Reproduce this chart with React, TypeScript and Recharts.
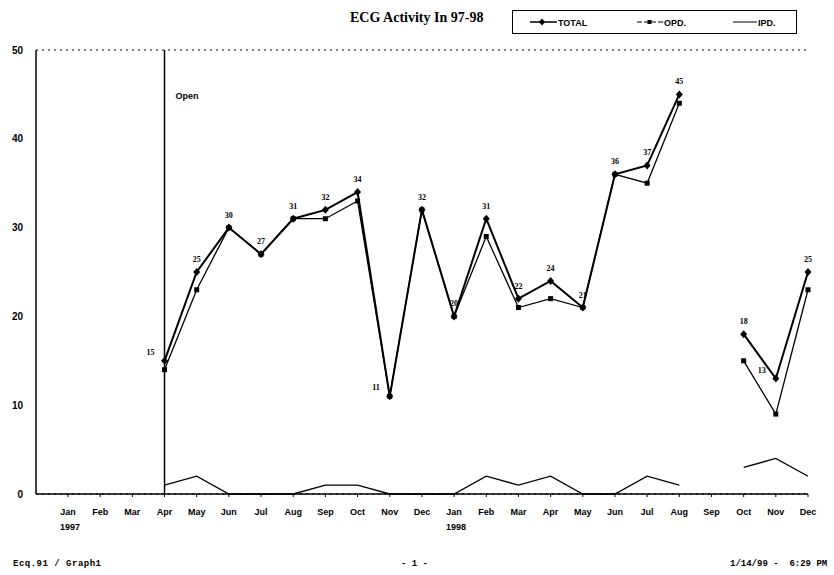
import React from 'react';
import { LineChart, Line, XAxis, YAxis, CartesianGrid, ReferenceLine, LabelList, Legend } from 'recharts';

// Jan 1997 .. Dec 1998
const periods = [
  'Jan-97', 'Feb-97', 'Mar-97', 'Apr-97', 'May-97', 'Jun-97', 'Jul-97', 'Aug-97', 'Sep-97', 'Oct-97', 'Nov-97', 'Dec-97',
  'Jan-98', 'Feb-98', 'Mar-98', 'Apr-98', 'May-98', 'Jun-98', 'Jul-98', 'Aug-98', 'Sep-98', 'Oct-98', 'Nov-98', 'Dec-98',
];
const total = [null, null, null, 15, 25, 30, 27, 31, 32, 34, 11, 32, 20, 31, 22, 24, 21, 36, 37, 45, null, 18, 13, 25];
const opd = [null, null, null, 14, 23, 30, 27, 31, 31, 33, 11, 32, 20, 29, 21, 22, 21, 36, 35, 44, null, 15, 9, 23];
const ipd = [null, null, null, 1, 2, 0, 0, 0, 1, 1, 0, 0, 0, 2, 1, 2, 0, 0, 2, 1, null, 3, 4, 2];
const yTicks = [0, 10, 20, 30, 40, 50];

const data = periods.map((p, i) => ({ period: p, total: total[i], opd: opd[i], ipd: ipd[i] }));

const AXIS_FONT = '"Liberation Sans", Arial, sans-serif';
const FOOT_FONT = '"Liberation Mono", monospace';

const MonthTick = (props: any) => {
  const { x, y, payload } = props;
  const [mon, yy] = String(payload.value).split('-');
  return (
    <g>
      <text x={x} y={y} dy={16} textAnchor="middle" fontSize={9} fontWeight="bold" fontFamily={AXIS_FONT} fill="#000">
        {mon}
      </text>
      {mon === 'Jan' && (
        <text x={x + 2} y={y} dy={31} textAnchor="middle" fontSize={9} fontWeight="bold" fontFamily={AXIS_FONT} fill="#000">
          {'19' + yy}
        </text>
      )}
    </g>
  );
};

const Diamond = (props: any) => {
  const { cx, cy, value } = props;
  if (value == null || cx == null || cy == null) return null;
  return <path d={`M${cx},${cy - 4}L${cx + 3.5},${cy}L${cx},${cy + 4}L${cx - 3.5},${cy}Z`} fill="#000" />;
};

const Square = (props: any) => {
  const { cx, cy, value } = props;
  if (value == null || cx == null || cy == null) return null;
  return <rect x={cx - 2.5} y={cy - 2.5} width={5} height={5} fill="#000" />;
};

const TotalLabel = (props: any) => {
  const { x, y, value } = props;
  if (value == null) return null;
  const low = value < 16;
  return (
    <text
      x={low ? x - 10 : x}
      y={low ? y - 6 : y - 10}
      textAnchor={low ? 'end' : 'middle'}
      fontSize={8}
      fontWeight="bold"
      fontFamily='"Liberation Serif", serif'
      fill="#000"
    >
      {value}
    </text>
  );
};

const renderLegend = () => (
  <svg width={285} height={24} style={{ display: 'block' }}>
    <rect x={0.5} y={0.5} width={284} height={23} fill="#fff" stroke="#000" strokeWidth={1} />
    <g fontSize={9} fontWeight="bold" fontFamily={AXIS_FONT} fill="#000">
      <line x1={18} y1={12} x2={45} y2={12} stroke="#000" strokeWidth={1.5} />
      <path d="M30,8.5L33,12L30,15.5L27,12Z" fill="#000" />
      <text x={46} y={15.5}>TOTAL</text>
      <line x1={125} y1={12} x2={151} y2={12} stroke="#000" strokeWidth={1} strokeDasharray="5 2" />
      <rect x={135.5} y={10} width={4} height={4} fill="#000" />
      <text x={152} y={15.5}>OPD.</text>
      <line x1={221} y1={12} x2={245} y2={12} stroke="#000" strokeWidth={1} />
      <text x={246} y={15.5}>IPD.</text>
    </g>
  </svg>
);

const footStyle: React.CSSProperties = {
  position: 'absolute',
  top: 559,
  fontFamily: FOOT_FONT,
  fontWeight: 'bold',
  fontSize: 9,
  whiteSpace: 'pre',
  color: '#000',
};

export default function App() {
  return (
    <div style={{ position: 'absolute', left: 0, top: 0, width: 834, height: 575, background: '#fff' }}>
      <div
        style={{
          position: 'absolute',
          left: 350,
          top: 10,
          fontFamily: '"Liberation Serif", "Times New Roman", serif',
          fontWeight: 'bold',
          fontSize: 14,
          color: '#000',
          whiteSpace: 'nowrap',
        }}
      >
        ECG Activity In 97-98
      </div>
      <LineChart width={834} height={575} data={data} margin={{ top: 50, right: 26, bottom: 0, left: 0 }}>
        <CartesianGrid horizontal vertical={false} stroke="#000" strokeDasharray="2 4" />
        <XAxis
          dataKey="period"
          height={81}
          padding={{ left: 32, right: 0 }}
          interval={0}
          tick={<MonthTick />}
          tickSize={3}
          axisLine={{ stroke: '#000', strokeWidth: 1.5 }}
          tickLine={{ stroke: '#000' }}
        />
        <YAxis
          yAxisId="left"
          width={36}
          domain={[0, 50]}
          ticks={yTicks}
          interval={0}
          tickLine={false}
          tickMargin={7}
          axisLine={{ stroke: '#000', strokeWidth: 1.5 }}
          tick={{ fontSize: 10, fontWeight: 'bold', fontFamily: AXIS_FONT, fill: '#000' }}
        />
        <YAxis
          yAxisId="right"
          orientation="right"
          width={0}
          domain={[0, 50]}
          tick={false}
          tickLine={false}
          axisLine={{ stroke: '#000', strokeWidth: 1.5 }}
        />
        <ReferenceLine
          yAxisId="left"
          x="Apr-97"
          stroke="#000"
          strokeWidth={1.5}
          label={(p: any) => (
            <text
              x={p.viewBox.x + 11}
              y={p.viewBox.y + 49}
              fontSize={9}
              fontWeight="bold"
              fontFamily={AXIS_FONT}
              fill="#000"
            >
              Open
            </text>
          )}
        />
        <Legend
          layout="horizontal"
          verticalAlign="middle"
          align="center"
          content={renderLegend}
          wrapperStyle={{ position: 'absolute', left: 512, top: 10, width: 285, height: 24 }}
        />
        <Line
          yAxisId="left"
          type="linear"
          dataKey="ipd"
          name="IPD."
          stroke="#000"
          strokeWidth={1.3}
          dot={false}
          isAnimationActive={false}
        />
        <Line
          yAxisId="left"
          type="linear"
          dataKey="opd"
          name="OPD."
          stroke="#000"
          strokeWidth={1.3}
          dot={<Square />}
          activeDot={false}
          isAnimationActive={false}
        />
        <Line
          yAxisId="left"
          type="linear"
          dataKey="total"
          name="TOTAL"
          stroke="#000"
          strokeWidth={2}
          dot={<Diamond />}
          activeDot={false}
          isAnimationActive={false}
        >
          <LabelList dataKey="total" content={<TotalLabel />} />
        </Line>
      </LineChart>
      <div style={{ ...footStyle, left: 13, letterSpacing: 0.5 }}>Ecq.91 / Graph1</div>
      <div style={{ ...footStyle, left: 401 }}>- 1 -</div>
      <div style={{ ...footStyle, left: 730 }}>{'1/14/99 -  6:29 PM'}</div>
    </div>
  );
}
